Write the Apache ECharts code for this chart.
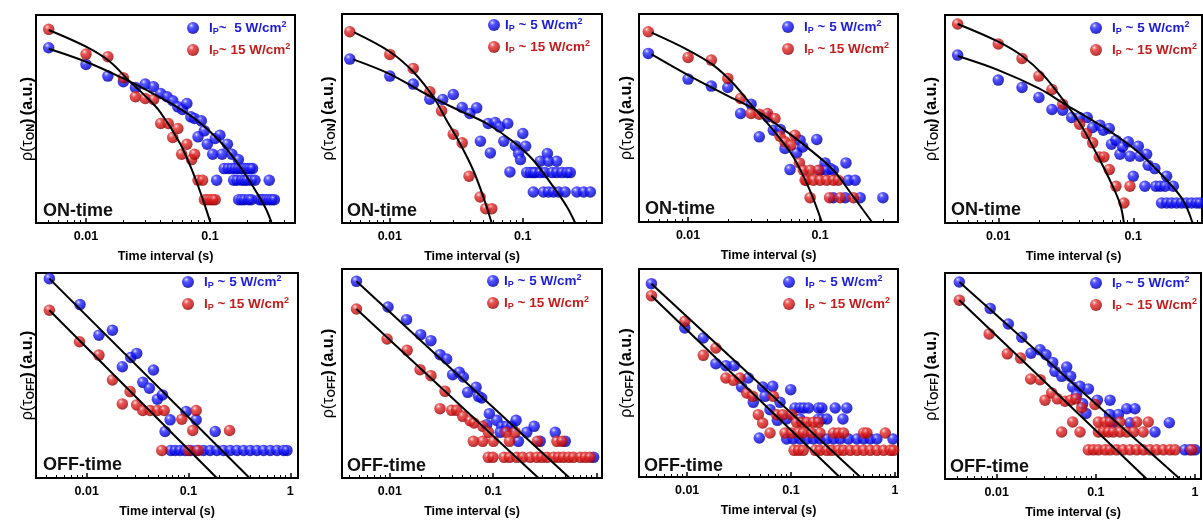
<!DOCTYPE html>
<html>
<head>
<meta charset="utf-8">
<script src="https://cdn.jsdelivr.net/npm/echarts@6/dist/echarts.min.js"></script>
<style>
  html, body { margin: 0; padding: 0; background: #fff; }
  #chart { width: 1203px; height: 520px; }
</style>
</head>
<body>
<div id="chart"></div>
<script>
// ---- Tick values (s) ----
const majorTicks = [0.01, 0.1, 1];
const majorTicksNoOne = [0.01, 0.1];
const minorTicks = [0.003, 0.004, 0.005, 0.006, 0.007, 0.008, 0.009,
  0.02, 0.03, 0.04, 0.05, 0.06, 0.07, 0.08, 0.09,
  0.2, 0.3, 0.4, 0.5, 0.6, 0.7, 0.8, 0.9];

// ---- ON-time distributions: [time interval (s), rho (a.u.)] ----
const on1_5W = [[0.005,5.25],[0.01,4.75],[0.015,4.40],[0.02,4.23],[0.025,4.06],[0.03,4.16],[0.035,4.08],[0.04,3.88],[0.045,3.78],[0.05,3.66],[0.055,3.48],[0.06,3.40],[0.065,3.58],[0.07,3.18],[0.075,3.13],[0.085,3.06],[0.09,2.76],[0.08,2.58],[0.095,2.36],[0.11,2.53],[0.12,2.63],[0.105,2.06],[0.125,2.06],[0.138,2.36],[0.15,2.06],[0.169,1.90],
  [0.13,1.63],[0.14,1.63],[0.15,1.63],[0.16,1.63],[0.17,1.63],[0.18,1.63],[0.19,1.63],[0.2,1.63],[0.21,1.63],[0.22,1.63],
  [0.113,1.28],[0.155,1.28],[0.165,1.28],[0.18,1.28],[0.19,1.28],[0.2,1.28],[0.215,1.28],[0.23,1.28],[0.30,1.28],
  [0.17,0.70],[0.18,0.70],[0.19,0.70],[0.205,0.70],[0.215,0.70],[0.25,0.70],[0.26,0.70],[0.27,0.70],[0.285,0.70],[0.30,0.70],[0.315,0.70],[0.33,0.70]];
const on1_15W = [[0.005,5.80],[0.01,5.06],[0.015,4.98],[0.02,4.35],[0.025,3.78],[0.03,3.73],[0.035,3.70],[0.04,2.98],[0.046,2.98],[0.05,2.56],[0.055,2.83],[0.059,2.06],[0.065,2.36],[0.071,1.90],[0.075,2.06],[0.08,1.28],[0.087,1.28],[0.09,0.70],[0.095,0.70],[0.1,0.70],[0.105,0.70],[0.11,0.70]];
const on1_5W_fit = [[0.005,5.22],[0.01,4.83],[0.02,4.33],[0.03,4.00],[0.05,3.55],[0.08,3.05],[0.12,2.45],[0.17,1.75],[0.23,1.0],[0.28,0.45],[0.314,0]];
const on1_15W_fit = [[0.005,5.78],[0.01,5.28],[0.0156,4.83],[0.0226,4.23],[0.029,3.86],[0.0395,3.33],[0.0573,2.38],[0.0734,1.48],[0.088,0.68],[0.101,0]];

const on2_5W = [[0.005,4.91],[0.01,4.40],[0.015,4.16],[0.02,3.71],[0.025,3.70],[0.03,3.85],[0.035,3.46],[0.04,3.28],[0.045,3.45],[0.055,2.98],[0.062,3.01],[0.067,2.88],[0.077,2.98],[0.048,2.45],[0.057,2.10],[0.072,2.45],[0.08,1.53],[0.088,2.31],[0.093,2.08],[0.096,1.90],[0.1,2.68],[0.105,2.30],
  [0.135,1.85],[0.153,2.08],[0.156,1.85],[0.18,1.85],
  [0.107,1.51],[0.114,1.51],[0.12,1.51],[0.124,1.51],[0.135,1.51],[0.147,1.51],[0.166,1.51],[0.18,1.51],[0.197,1.51],[0.215,1.51],[0.2275,1.51],
  [0.12,0.93],[0.143,0.93],[0.156,0.93],[0.17,0.93],[0.186,0.93],[0.208,0.93],[0.255,0.93],[0.287,0.93],[0.322,0.93]];
const on2_15W = [[0.005,5.73],[0.01,5.05],[0.015,4.63],[0.02,3.93],[0.0245,3.36],[0.03,2.66],[0.035,2.40],[0.0394,1.40],[0.0477,0.78],[0.0526,0.43],[0.0584,0.43]];
const on2_5W_fit = [[0.0053,4.90],[0.01,4.46],[0.02,3.80],[0.0337,3.36],[0.0535,2.98],[0.085,2.43],[0.12,1.88],[0.17,1.08],[0.215,0.48],[0.248,0]];
const on2_15W_fit = [[0.0054,5.71],[0.01,5.13],[0.015,4.53],[0.0212,3.78],[0.0267,3.08],[0.0337,2.38],[0.0424,1.58],[0.0505,0.78],[0.0584,0]];

const on3_5W = [[0.005,5.05],[0.01,4.28],[0.015,4.07],[0.02,4.03],[0.025,3.25],[0.03,3.53],[0.0346,2.55],[0.04,3.15],[0.0442,2.75],[0.05,2.77],[0.0542,2.20],[0.0592,1.57],[0.0665,2.07],[0.0705,2.45],[0.0739,2.25],[0.0944,2.47],[0.109,1.77],[0.119,1.60],[0.157,1.77],[0.164,1.25],[0.184,1.25],[0.201,0.73],[0.299,0.73],
  [0.1,1.55],[0.112,1.55],[0.126,1.55],[0.126,0.73],[0.155,0.73]];
const on3_15W = [[0.005,5.70],[0.01,4.93],[0.015,4.85],[0.02,4.30],[0.025,3.70],[0.03,3.25],[0.0346,3.23],[0.04,3.25],[0.0455,3.10],[0.0497,2.57],[0.0542,2.40],[0.06,2.30],[0.0645,2.60],[0.0697,1.77],[0.0747,1.55],[0.084,1.55],[0.097,1.55],
  [0.077,1.25],[0.079,1.25],[0.089,1.25],[0.1,1.25],[0.112,1.25],[0.126,1.25],[0.137,1.25],
  [0.084,0.73],[0.118,0.73],[0.142,0.73],[0.179,0.73]];
const on3_5W_fit = [[0.0053,5.02],[0.01,4.40],[0.0195,3.80],[0.031,3.40],[0.0497,2.85],[0.079,2.25],[0.126,1.55],[0.179,0.75],[0.247,0]];
const on3_15W_fit = [[0.0053,5.67],[0.01,5.15],[0.0155,4.70],[0.022,4.15],[0.031,3.45],[0.0442,2.75],[0.0627,1.95],[0.0837,0.95],[0.103,0]];

const on4_5W = [[0.005,5.03],[0.01,4.28],[0.015,4.06],[0.02,3.76],[0.025,3.40],[0.03,3.38],[0.035,3.16],[0.04,3.16],[0.0456,3.16],[0.05,2.86],[0.0566,2.93],[0.06,2.78],[0.0664,2.83],[0.069,2.36],[0.0744,2.48],[0.0797,2.06],[0.0834,2.28],[0.0918,2.43],[0.0945,2.00],[0.1,1.40],[0.109,2.30],[0.112,2.00],[0.1256,2.06],[0.129,1.73],[0.122,1.10],[0.1446,1.63],[0.147,1.10],[0.158,1.10],[0.172,1.10],[0.1766,1.40],[0.198,1.10],
  [0.162,0.60],[0.177,0.60],[0.192,0.60],[0.209,0.60],[0.228,0.60],[0.248,0.60],[0.27,0.60],[0.294,0.60],[0.312,0.60]];
const on4_15W = [[0.005,5.96],[0.01,5.36],[0.015,4.93],[0.02,4.40],[0.025,4.00],[0.03,3.56],[0.04,2.96],[0.045,2.68],[0.05,2.40],[0.056,1.98],[0.0606,1.98],[0.0664,1.60],[0.0744,1.10],[0.0945,1.10],[0.0853,0.60]];
const on4_5W_fit = [[0.005,5.00],[0.01,4.58],[0.02,4.03],[0.032,3.53],[0.045,3.18],[0.071,2.68],[0.112,2.08],[0.177,1.28],[0.234,0.68],[0.275,0]];
const on4_15W_fit = [[0.005,5.96],[0.01,5.43],[0.0153,4.98],[0.0216,4.43],[0.0303,3.68],[0.0403,2.98],[0.0534,2.08],[0.0671,1.28],[0.0797,0.58],[0.0853,0]];

// ---- OFF-time distributions: [time interval (s), rho (a.u.)] ----
const off1_5W = [[0.0043,6.00],[0.0086,5.22],[0.0132,4.30],[0.0179,4.45],[0.0224,3.35],[0.0271,3.63],[0.031,3.75],[0.0356,2.88],[0.0413,2.70],[0.0453,3.25],[0.0495,2.37],[0.0555,2.50],[0.066,1.75],[0.0589,1.40],[0.0948,2.00],[0.119,1.75],[0.183,1.40],
  [0.067,0.83],[0.074,0.83],[0.0828,0.83],[0.0927,0.83],[0.1054,0.83],[0.1208,0.83],[0.1406,0.83],[0.163,0.83],[0.19,0.83],[0.221,0.83],[0.257,0.83],[0.299,0.83],[0.348,0.83],[0.404,0.83],[0.47,0.83],[0.547,0.83],[0.636,0.83],[0.74,0.83],[0.86,0.83],[0.927,0.83]];
const off1_15W = [[0.0043,5.05],[0.0085,4.10],[0.0132,3.70],[0.0179,2.95],[0.0224,2.23],[0.0267,2.60],[0.031,2.20],[0.0356,2.03],[0.042,2.03],[0.0495,2.03],[0.0577,2.03],[0.086,1.77],[0.119,2.03],[0.11,1.43],[0.253,1.43],[0.0547,0.83],[0.1,0.83],[0.125,0.83]];
const off1_5W_fit = [[0.0043,6.00],[0.398,0]];
const off1_15W_fit = [[0.0043,5.05],[0.19,0]];

const off2_5W = [[0.00475,5.90],[0.0096,5.13],[0.0145,4.75],[0.0199,4.30],[0.025,4.12],[0.0306,3.70],[0.0355,3.57],[0.0406,3.10],[0.0471,3.17],[0.0515,3.03],[0.0568,2.57],[0.0684,2.72],[0.0721,2.45],[0.0776,2.40],[0.092,1.93],[0.0868,1.60],[0.1086,1.73],[0.121,1.55],[0.136,1.55],[0.152,1.55],[0.167,1.73],[0.117,1.37],[0.176,1.10],[0.212,1.37],[0.25,1.55],[0.286,1.10],[0.40,1.37],[0.50,1.10],[0.942,0.62]];
const off2_15W = [[0.00475,5.07],[0.0094,4.17],[0.0147,3.83],[0.0196,3.25],[0.025,3.07],[0.0342,2.60],[0.0306,2.08],[0.0397,2.03],[0.0444,2.03],[0.0508,1.85],[0.0598,1.72],[0.0654,1.65],[0.0794,1.55],[0.09,1.37],[0.0644,1.10],[0.0794,1.10],[0.1007,1.10],[0.134,1.37],[0.164,1.37],[0.144,1.10],[0.269,1.10],[0.415,1.10],[0.465,1.10],
  [0.09,0.62],[0.0995,0.62],[0.128,0.62],[0.1445,0.62],[0.17,0.62],[0.194,0.62],[0.229,0.62],[0.265,0.62],[0.297,0.62],[0.333,0.62],[0.386,0.62],[0.43,0.62],[0.48,0.62],[0.54,0.62],[0.60,0.62],[0.70,0.62],[0.78,0.62],[0.87,0.62]];
const off2_5W_fit = [[0.00475,5.90],[0.551,0]];
const off2_15W_fit = [[0.00475,5.07],[0.275,0]];

const off3_5W = [[0.00453,5.80],[0.0095,4.47],[0.0143,4.17],[0.0189,3.40],[0.0236,3.34],[0.0284,3.34],[0.0334,2.70],[0.0388,2.97],[0.0433,2.24],[0.0533,2.70],[0.0561,2.42],[0.0666,2.72],[0.0783,2.24],[0.0627,2.02],[0.0738,1.70],[0.0993,2.62],[0.0495,1.17],
  [0.109,2.07],[0.122,2.07],[0.133,2.07],[0.147,2.07],[0.184,2.07],[0.198,2.07],[0.266,2.07],[0.344,2.07],
  [0.0905,1.74],[0.122,1.74],[0.184,1.74],[0.198,1.74],[0.221,1.74],[0.316,1.74],
  [0.0908,1.14],[0.105,1.14],[0.122,1.14],[0.142,1.14],[0.164,1.14],[0.19,1.14],[0.221,1.14],[0.256,1.14],[0.297,1.14],[0.357,1.14],[0.43,1.14],[0.499,1.14],[0.578,1.14],[0.67,1.14],[0.957,1.14]];
const off3_15W = [[0.00453,5.44],[0.0095,4.67],[0.0143,3.65],[0.0189,3.87],[0.0236,2.97],[0.0278,2.90],[0.0322,2.97],[0.0374,2.52],[0.0427,2.42],[0.0484,1.87],[0.0533,1.62],[0.0676,2.42],[0.0727,1.87],[0.0831,1.87],[0.1015,1.87],[0.0627,1.32],
  [0.113,1.64],[0.127,1.64],[0.142,1.64],[0.164,1.64],[0.184,1.64],
  [0.0875,1.32],[0.1015,1.32],[0.118,1.32],[0.131,1.32],[0.158,1.32],[0.19,1.32],[0.256,1.32],[0.286,1.32],[0.32,1.32],[0.499,1.32],[0.537,1.32],[0.807,1.32],
  [0.107,0.80],[0.118,0.80],[0.131,0.80],[0.171,0.80],[0.19,0.80],[0.221,0.80],[0.247,0.80],[0.286,0.80],[0.32,0.80],[0.371,0.80],[0.43,0.80],[0.499,0.80],[0.578,0.80],[0.67,0.80],[0.778,0.80],[0.902,0.80],[0.97,0.80]];
const off3_5W_fit = [[0.00453,5.80],[0.463,0]];
const off3_15W_fit = [[0.00453,5.44],[0.293,0]];

const off4_5W = [[0.0042,5.95],[0.0086,5.15],[0.0131,4.68],[0.0179,4.28],[0.0222,3.80],[0.0274,3.90],[0.0314,3.75],[0.0367,3.52],[0.0387,3.25],[0.0508,3.38],[0.0452,3.10],[0.0557,3.10],[0.0584,2.78],[0.0692,2.80],[0.084,2.72],[0.0641,2.55],[0.0736,2.28],[0.0796,1.98],[0.1035,2.38],[0.139,2.38],[0.1375,1.95],[0.169,1.95],[0.205,2.12],[0.248,2.12],[0.221,1.70],[0.551,1.70],[0.395,1.42],[0.1485,1.70],[0.79,0.88],[0.89,0.88],[1.0,0.88]];
const off4_15W = [[0.0042,5.40],[0.0084,4.38],[0.0128,3.78],[0.0174,3.65],[0.022,3.02],[0.0274,3.00],[0.0307,2.38],[0.0359,2.60],[0.0409,2.42],[0.0489,2.35],[0.0557,2.38],[0.063,2.42],[0.072,2.15],[0.098,2.25],[0.0584,1.72],[0.0452,1.42],[0.0692,1.42],
  [0.106,1.72],[0.124,1.72],[0.139,1.72],[0.175,1.72],[0.258,1.72],[0.338,1.72],
  [0.106,1.42],[0.119,1.42],[0.134,1.42],[0.15,1.42],[0.175,1.42],[0.205,1.42],[0.24,1.42],[0.30,1.42],
  [0.084,0.88],[0.0944,0.88],[0.106,0.88],[0.124,0.88],[0.139,0.88],[0.162,0.88],[0.189,0.88],[0.221,0.88],[0.258,0.88],[0.301,0.88],[0.352,0.88],[0.41,0.88],[0.48,0.88],[0.56,0.88],[0.629,0.88],[0.925,0.88]];
const off4_5W_fit = [[0.0042,5.95],[0.706,0]];
const off4_15W_fit = [[0.0042,5.40],[0.326,0]];

// ---- Panel layout ----
const FONT = '"Liberation Sans", Arial, Helvetica, sans-serif';
// leg: [left, top, extra gap between icon and text]
const panels = [
  { kind: 'ON',  b: on1_5W,  r: on1_15W,  bf: on1_5W_fit,  rf: on1_15W_fit,  box: [36, 15, 259, 208],  x: [0.00395, 0.484], yMax: 6.23, labels: majorTicks, nameGap: 0, leg: [187, 20, 5], first: true,  tag: [43, 202] },
  { kind: 'ON',  b: on2_5W,  r: on2_15W,  bf: on2_5W_fit,  rf: on2_15W_fit,  box: [342, 14, 260, 209], x: [0.00437, 0.394], yMax: 6.26, labels: majorTicks, nameGap: 5, leg: [488, 17, 0], first: false, tag: [347, 202] },
  { kind: 'ON',  b: on3_5W,  r: on3_15W,  bf: on3_5W_fit,  rf: on3_15W_fit,  box: [639, 14, 259, 208], x: [0.00425, 0.389], yMax: 6.23, labels: majorTicks, nameGap: 4, leg: [782, 19, 5], first: false, tag: [645, 200] },
  { kind: 'ON',  b: on4_5W,  r: on4_15W,  bf: on4_5W_fit,  rf: on4_15W_fit,  box: [945, 15, 257, 208], x: [0.00403, 0.323], yMax: 6.23, labels: majorTicks, nameGap: 5, leg: [1090, 20, 5], first: false, tag: [951, 201] },
  { kind: 'OFF', b: off1_5W, r: off1_15W, bf: off1_5W_fit, rf: off1_15W_fit, box: [36, 273, 262, 205], x: [0.00318, 1.19], yMax: 6.17, labels: majorTicks, nameGap: 0, leg: [182, 274, 5], first: false, tag: [43, 456] },
  { kind: 'OFF', b: off2_5W, r: off2_15W, bf: off2_5W_fit, rf: off2_15W_fit, box: [342, 269, 260, 209], x: [0.00344, 1.135], yMax: 6.27, labels: majorTicksNoOne, nameGap: 5, leg: [487, 273, 0], first: false, tag: [347, 457] },
  { kind: 'OFF', b: off3_5W, r: off3_15W, bf: off3_5W_fit, rf: off3_15W_fit, box: [639, 269, 259, 208], x: [0.00344, 1.07], yMax: 6.24, labels: majorTicks, nameGap: 4, leg: [783, 274, 5], first: false, tag: [644, 457] },
  { kind: 'OFF', b: off4_5W, r: off4_15W, bf: off4_5W_fit, rf: off4_15W_fit, box: [945, 273, 256, 207], x: [0.00301, 1.15], yMax: 6.22, labels: majorTicks, nameGap: 5, leg: [1090, 275, 5], first: false, tag: [950, 458] }
];

// Shaded sphere markers
const blueBall = new echarts.graphic.RadialGradient(0.36, 0.3, 0.75, [
  { offset: 0, color: '#f4f4ff' }, { offset: 0.13, color: '#7a7aff' },
  { offset: 0.32, color: '#2626ff' }, { offset: 0.75, color: '#0000d6' }, { offset: 1, color: '#00007c' }]);
const redBall = new echarts.graphic.RadialGradient(0.36, 0.3, 0.75, [
  { offset: 0, color: '#fff2f2' }, { offset: 0.13, color: '#f08080' },
  { offset: 0.32, color: '#e02a2a' }, { offset: 0.75, color: '#c00a0a' }, { offset: 1, color: '#6e0000' }]);
const BLUE_TXT = '#1c1cd6';
const RED_TXT = '#c41c1c';

function legendRich(color, key) {
  const r = {};
  r[key + 'm'] = { color, fontSize: 13.5, fontWeight: 'bold', fontFamily: FONT, lineHeight: 16 };
  r[key + 's'] = { color, fontSize: 9, fontWeight: 'bold', fontFamily: FONT, lineHeight: 6, verticalAlign: 'bottom' };
  r[key + 'u'] = { color, fontSize: 9, fontWeight: 'bold', fontFamily: FONT, lineHeight: 8, verticalAlign: 'top' };
  return r;
}
const legendRichAll = Object.assign({}, legendRich(BLUE_TXT, 'b'), legendRich(RED_TXT, 'r'));

const grid = [], xAxis = [], yAxis = [], series = [], legend = [], title = [];

panels.forEach((p, i) => {
  grid.push({ left: p.box[0], top: p.box[1], width: p.box[2], height: p.box[3],
    show: true, borderColor: '#000', borderWidth: 2, backgroundColor: 'transparent', containLabel: false });

  // main time axis: decade ticks and labels
  xAxis.push({
    type: 'log', logBase: 10, gridIndex: i, position: 'bottom', min: p.x[0], max: p.x[1],
    axisLine: { show: false },
    axisTick: { show: true, inside: true, length: 5, customValues: majorTicks, lineStyle: { color: '#000', width: 1.5 } },
    axisLabel: { customValues: p.labels, margin: 7, color: '#000', fontSize: 12.5, fontWeight: 'bold', fontFamily: FONT },
    splitLine: { show: false },
    name: 'Time interval (s)', nameLocation: 'middle', nameGap: 27,
    nameTextStyle: { color: '#000', fontSize: 12.5, fontWeight: 'bold', fontFamily: FONT }
  });
  // minor ticks at 2..9 x 10^n
  xAxis.push({
    type: 'log', logBase: 10, gridIndex: i, position: 'bottom', min: p.x[0], max: p.x[1],
    axisLine: { show: false },
    axisTick: { show: true, inside: true, length: 3, customValues: minorTicks, lineStyle: { color: '#000', width: 1 } },
    axisLabel: { show: false }, splitLine: { show: false }, silent: true
  });

  yAxis.push({
    type: 'value', gridIndex: i, min: 0, max: p.yMax,
    axisLine: { show: false }, axisTick: { show: false }, axisLabel: { show: false }, splitLine: { show: false },
    name: '{g|ρ(τ}{s|' + p.kind + '}{b|)} {b|(a.u.)}', nameLocation: 'middle', nameGap: p.nameGap,
    nameTextStyle: {
      color: '#000',
      rich: {
        g: { fontSize: 16, fontWeight: 'normal', fontFamily: FONT, color: '#000', lineHeight: 16 },
        s: { fontSize: 11, fontWeight: 'bold', fontFamily: FONT, color: '#000', lineHeight: 6, verticalAlign: 'bottom' },
        b: { fontSize: 16, fontWeight: 'bold', fontFamily: FONT, color: '#000', lineHeight: 16 }
      }
    }
  });

  const xi = 2 * i;
  series.push({ type: 'scatter', name: 'I5', xAxisIndex: xi, yAxisIndex: i, data: p.b,
    symbol: 'circle', symbolSize: 11.5, itemStyle: { color: blueBall }, z: 2, silent: true });
  series.push({ type: 'scatter', name: 'I15', xAxisIndex: xi, yAxisIndex: i, data: p.r,
    symbol: 'circle', symbolSize: 11.5, itemStyle: { color: redBall }, z: 2, silent: true });
  const smooth = p.kind === 'ON' ? 0.35 : false;
  series.push({ type: 'line', name: 'fit', xAxisIndex: xi, yAxisIndex: i, data: p.bf, smooth,
    showSymbol: false, lineStyle: { color: '#000', width: 2 }, z: 3, silent: true });
  series.push({ type: 'line', name: 'fit', xAxisIndex: xi, yAxisIndex: i, data: p.rf, smooth,
    showSymbol: false, lineStyle: { color: '#000', width: 2 }, z: 3, silent: true });

  // first panel writes "I_P~  5" / "I_P~ 15", the others "I_P ~ 5" / "I_P ~ 15"
  const t5 = p.first ? '~  5' : ' ~ 5';
  const t15 = p.first ? '~ 15' : ' ~ 15';
  legend.push({
    data: ['I5', 'I15'], orient: 'vertical', left: p.leg[0], top: p.leg[1], padding: 0,
    itemWidth: 12, itemHeight: 12, itemGap: 6, icon: 'circle', selectedMode: false,
    formatter: name => name === 'I5'
      ? '{bm|I}{bs|P}{bm|' + t5 + ' W/cm}{bu|2}'
      : '{rm|I}{rs|P}{rm|' + t15 + ' W/cm}{ru|2}',
    textStyle: { rich: legendRichAll, padding: [0, 0, 0, p.leg[2]] }
  });

  title.push({ text: p.kind + '-time', left: p.tag[0], top: p.tag[1], padding: 0,
    textStyle: { color: '#111', fontSize: 18, fontWeight: 'bold', fontFamily: FONT } });
});

const chart = echarts.init(document.getElementById('chart'), null, { renderer: 'canvas' });
chart.setOption({
  animation: false,
  backgroundColor: '#fff',
  textStyle: { fontFamily: FONT },
  title, grid, xAxis, yAxis, legend, series
});
</script>
</body>
</html>
